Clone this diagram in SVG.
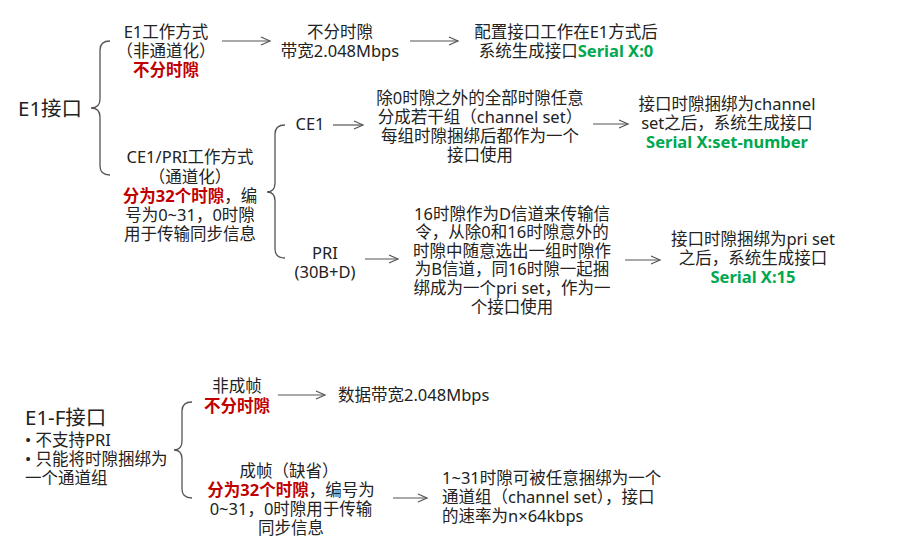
<svg xmlns="http://www.w3.org/2000/svg" width="916" height="546" viewBox="0 0 916 546">
<defs>
<style>
text{font-family:"Noto Sans","Noto Sans CJK SC",sans-serif;font-size:16.5px;fill:#222}
.c{text-anchor:middle}
.h{font-size:20.5px}
.r{fill:#c00000;font-weight:bold}
.g{fill:#00a84f;font-weight:bold}
.ln{fill:none;stroke:#555;stroke-width:1.2}
.br{fill:none;stroke:#555;stroke-width:1.3}
</style>
<marker id="ah" markerWidth="12" markerHeight="10" refX="10" refY="5" orient="auto" markerUnits="userSpaceOnUse">
<path d="M1,1 L10,5 L1,9" fill="none" stroke="#555" stroke-width="1.2"/>
</marker>
</defs>
<rect width="916" height="546" fill="#fff"/>
<g id="connectors">
<path class="br" d="M110,41 Q100,41 100,50 V99 Q100,108 91,108 Q100,108 100,117 V166 Q100,175 110,175"/>
<path class="br" d="M285,125 Q275,125 275,134 V183 Q275,192 267,192 Q275,192 275,201 V249 Q275,258 285,258"/>
<path class="br" d="M192,402 Q182,402 182,411 V441 Q182,450 174,450 Q182,450 182,459 V489 Q182,498 192,498"/>
<line class="ln" x1="222" y1="41" x2="270" y2="41" marker-end="url(#ah)"/>
<line class="ln" x1="410" y1="41" x2="458" y2="41" marker-end="url(#ah)"/>
<line class="ln" x1="333" y1="125" x2="363" y2="125" marker-end="url(#ah)"/>
<line class="ln" x1="593" y1="124" x2="628" y2="124" marker-end="url(#ah)"/>
<line class="ln" x1="365" y1="259" x2="398" y2="259" marker-end="url(#ah)"/>
<line class="ln" x1="625" y1="260" x2="660" y2="260" marker-end="url(#ah)"/>
<line class="ln" x1="278" y1="395" x2="325" y2="395" marker-end="url(#ah)"/>
<line class="ln" x1="393" y1="498" x2="427" y2="498" marker-end="url(#ah)"/>
</g>
<g id="e1">
<text class="h" x="18" y="116">E1接口</text>
</g>
<g id="e1mode">
<text class="c"><tspan x="166" y="38">E1工作方式</tspan><tspan x="166" y="57">（非通道化）</tspan><tspan class="r" x="166" y="76">不分时隙</tspan></text>
</g>
<g id="nots">
<text class="c"><tspan x="340" y="38">不分时隙</tspan><tspan x="340" y="57">带宽2.048Mbps</tspan></text>
</g>
<g id="serial0">
<text class="c"><tspan x="566" y="38">配置接口工作在E1方式后</tspan><tspan x="566" y="57">系统生成接口<tspan class="g">Serial X:0</tspan></tspan></text>
</g>
<g id="ce1pri">
<text class="c"><tspan x="190" y="163">CE1/PRI工作方式</tspan><tspan x="190" y="183">（通道化）</tspan><tspan x="190" y="202"><tspan class="r">分为32个时隙</tspan>，编</tspan><tspan x="190" y="221">号为0~31，0时隙</tspan><tspan x="190" y="240">用于传输同步信息</tspan></text>
</g>
<g id="ce1">
<text class="c" x="310" y="130">CE1</text>
</g>
<g id="ce1desc">
<text class="c"><tspan x="480" y="104">除0时隙之外的全部时隙任意</tspan><tspan x="480" y="123">分成若干组（channel set）</tspan><tspan x="480" y="142">每组时隙捆绑后都作为一个</tspan><tspan x="480" y="161">接口使用</tspan></text>
</g>
<g id="serialset">
<text class="c"><tspan x="727" y="110">接口时隙捆绑为channel</tspan><tspan x="727" y="129">set之后，系统生成接口</tspan><tspan class="g" x="727" y="148">Serial X:set-number</tspan></text>
</g>
<g id="pri">
<text class="c"><tspan x="325" y="259">PRI</tspan><tspan x="325" y="278">(30B+D)</tspan></text>
</g>
<g id="pridesc">
<text class="c"><tspan x="512" y="220">16时隙作为D信道来传输信</tspan><tspan x="512" y="238">令，从除0和16时隙意外的</tspan><tspan x="512" y="257">时隙中随意选出一组时隙作</tspan><tspan x="512" y="275">为B信道，同16时隙一起捆</tspan><tspan x="512" y="294">绑成为一个pri set，作为一</tspan><tspan x="512" y="313">个接口使用</tspan></text>
</g>
<g id="serial15">
<text class="c"><tspan x="753" y="245">接口时隙捆绑为pri set</tspan><tspan x="753" y="264">之后，系统生成接口</tspan><tspan class="g" x="753" y="283">Serial X:15</tspan></text>
</g>
<g id="e1f">
<text class="h" x="25" y="425">E1-F接口</text>
<text><tspan x="25" y="446">• 不支持PRI</tspan><tspan x="25" y="465">• 只能将时隙捆绑为</tspan><tspan x="25" y="484">一个通道组</tspan></text>
</g>
<g id="unframed">
<text class="c"><tspan x="237" y="392">非成帧</tspan><tspan class="r" x="237" y="412">不分时隙</tspan></text>
</g>
<g id="unframeddesc">
<text x="338" y="401">数据带宽2.048Mbps</text>
</g>
<g id="framed">
<text class="c"><tspan x="289" y="477">成帧（缺省）</tspan><tspan x="291" y="496"><tspan class="r">分为32个时隙</tspan>，编号为</tspan><tspan x="291" y="515">0~31，0时隙用于传输</tspan><tspan x="291" y="534">同步信息</tspan></text>
</g>
<g id="frameddesc">
<text><tspan x="442" y="484">1~31时隙可被任意捆绑为一个</tspan><tspan x="442" y="503">通道组（channel set），接口</tspan><tspan x="442" y="522">的速率为n×64kbps</tspan></text>
</g>
</svg>
